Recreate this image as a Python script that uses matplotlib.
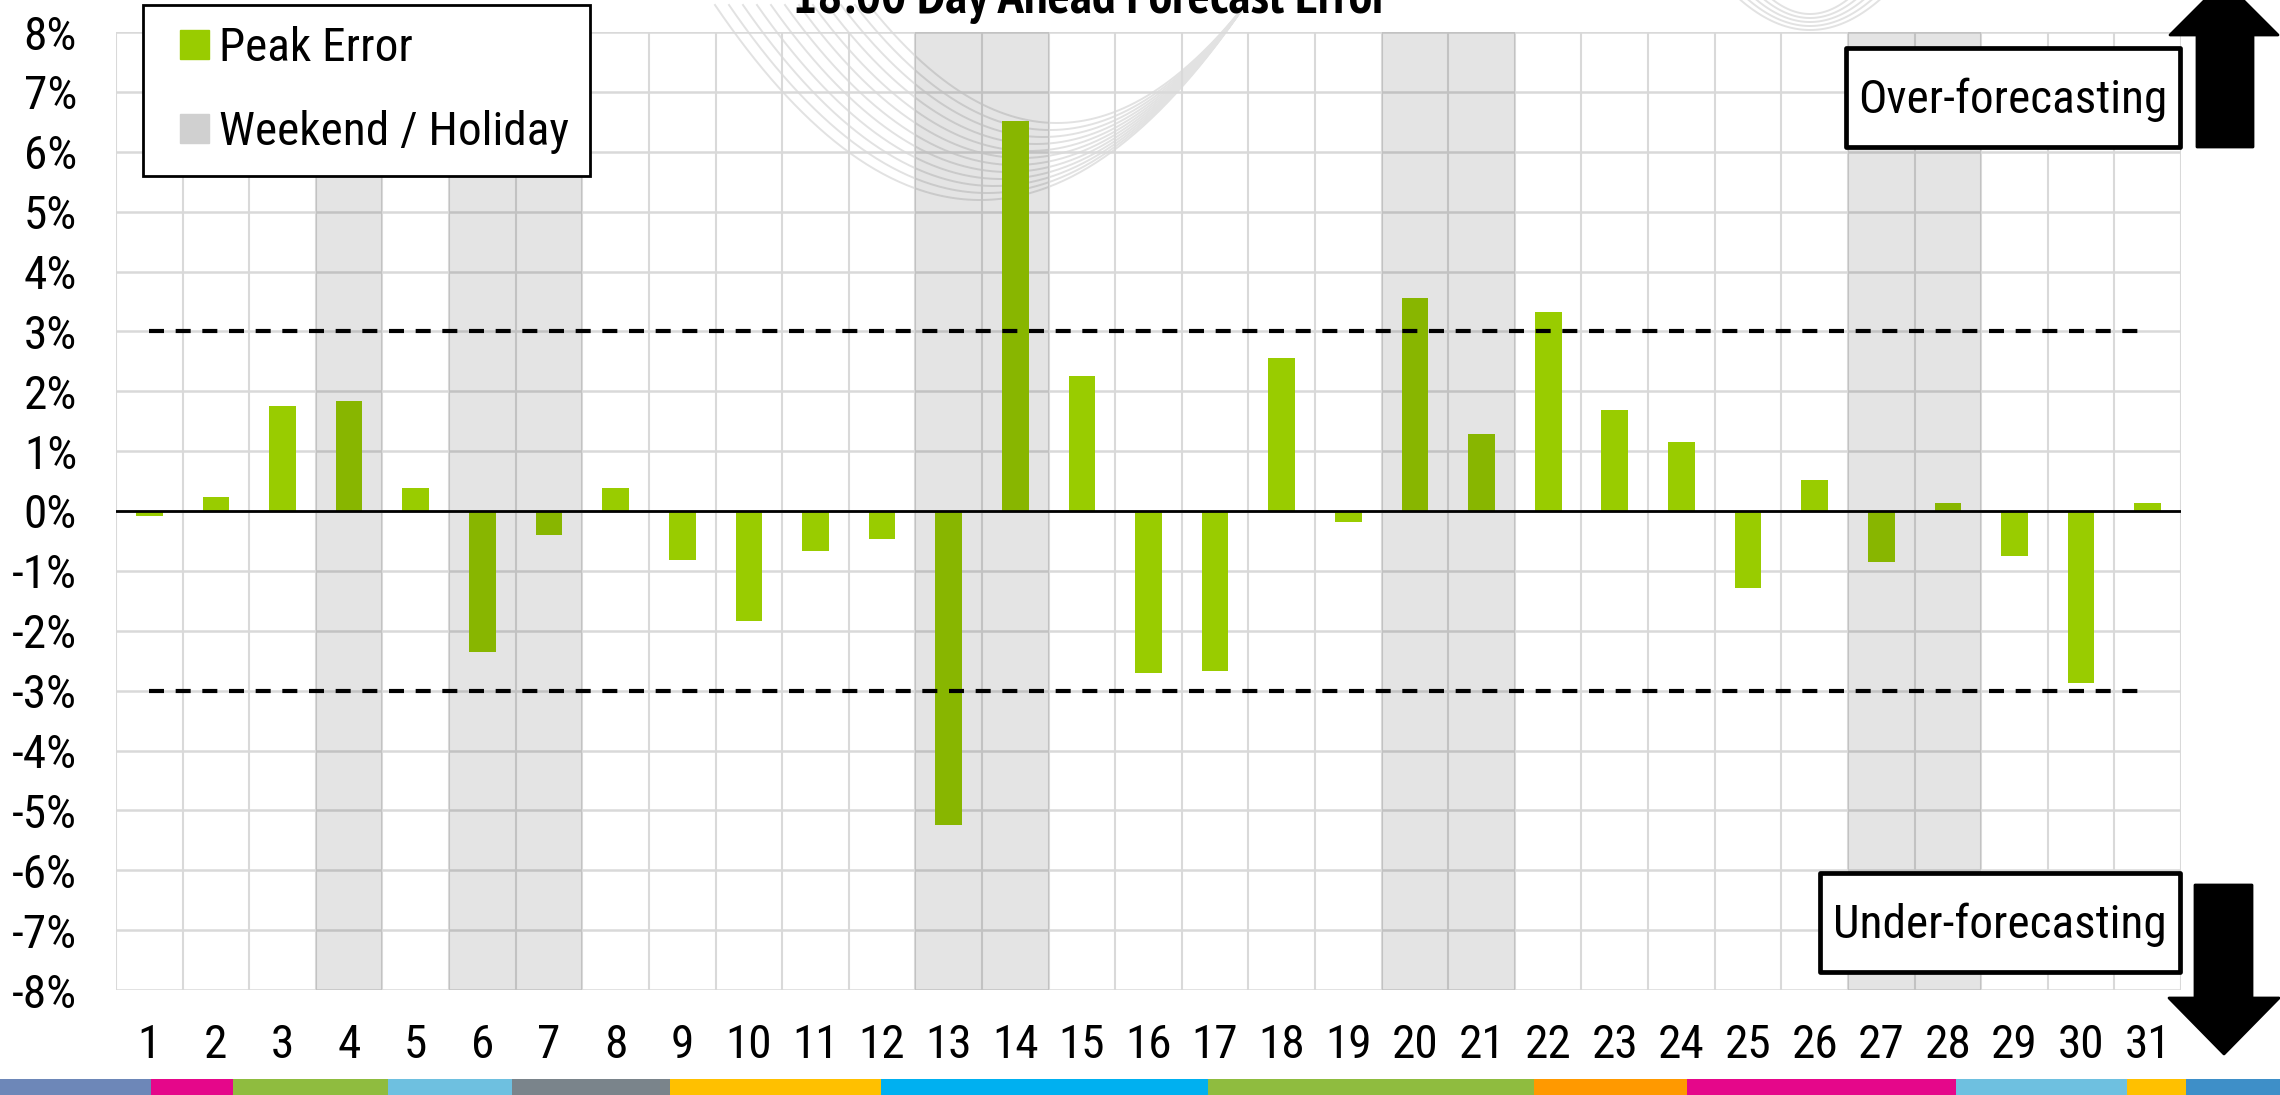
import matplotlib
matplotlib.use("Agg")
import matplotlib.pyplot as plt
from matplotlib.patches import Patch, Rectangle, Polygon
from matplotlib.legend_handler import HandlerPatch
from matplotlib.ticker import FuncFormatter
import numpy as np

# narrow sans (Arial Narrow look-alike)
NARROW = ['Liberation Sans Narrow', 'Roboto Condensed', 'PT Sans Narrow', 'Archivo Narrow',
          'Liberation Sans']
plt.rcParams['font.family'] = NARROW
plt.rcParams['axes.unicode_minus'] = False

# data
days = list(range(1, 32))
peak_error = [-0.08, 0.24, 1.76, 1.84, 0.38, -2.36, -0.40, 0.38, -0.82, -1.84,
              -0.66, -0.47, -5.25, 6.52, 2.26, -2.70, -2.68, 2.55, -0.18, 3.55,
              1.28, 3.33, 1.68, 1.16, -1.29, 0.51, -0.85, 0.14, -0.75, -2.88,
              0.14]
weekends = [4, 6, 7, 13, 14, 20, 21, 27, 28]
thresholds = [3, -3]
y_ticks = list(range(-8, 9))
title = "18:00 Day Ahead Forecast Error"

# footer colour strip (widths in px, colour)
strip = [(151, '#6d87b8'), (82, '#e5078a'), (155, '#8fbc3f'), (124, '#6ec0e0'),
         (158, '#7a848b'), (211, '#ffc000'), (327, '#00b0f0'), (326, '#8fbc3f'),
         (153, '#ff9900'), (269, '#e5078a'), (171, '#6ec0e0'), (59, '#ffc000'),
         (94, '#3e8fc8')]

W, H = 2280, 1095
fig = plt.figure(figsize=(W / 100, H / 100), dpi=100)

# background watermark
bg = fig.add_axes([0, 0, 1, 1], zorder=0)
bg.set_xlim(0, W)
bg.set_ylim(H, 0)
bg.axis('off')
for k in range(12):
    xv, yb = 980 + 7 * k, 200 - 7 * k
    xr = 1245
    a = (yb - 5) / (xr - xv) ** 2
    x = np.linspace(2 * xv - xr, xr, 200)
    bg.plot(x, yb - a * (x - xv) ** 2, color='#e2e2e2', lw=1.4)
for k in range(5):
    xv, yb, hw = 1810, 30 - 4 * k, 75 - 8 * k
    x = np.linspace(xv - hw, xv + hw, 100)
    bg.plot(x, yb - (yb + 5) / hw ** 2 * (x - xv) ** 2, color='#e2e2e2', lw=1.4)

# main chart
ax = fig.add_axes([116 / W, 1 - 990 / H, (2181 - 116) / W, (990 - 32) / H], zorder=1)
ax.set_facecolor('none')
ax.bar(days, peak_error, width=0.4, color='#99cc00', zorder=2)
for d in weekends:
    ax.axvspan(d - 0.5, d + 0.5, color='black', alpha=0.105, lw=0, zorder=3)
ax.axhline(0, color='black', lw=2, zorder=4)
ax.hlines(thresholds, days[0], days[-1], colors='black', lw=3,
          linestyles=(0, (3.6, 2.8)), zorder=4)

ax.set_xlim(0.5, 31.5)
ax.set_ylim(-8, 8)
ax.set_xticks(days)
ax.set_xticks(np.arange(0.5, 32, 1), minor=True)
ax.set_yticks(y_ticks)
ax.yaxis.set_major_formatter(FuncFormatter(lambda v, p: f"{v:.0f}%"))
ax.grid(which='minor', axis='x', color='#d9d9d9', lw=1.5, zorder=0)
ax.grid(which='major', axis='y', color='#d9d9d9', lw=1.8, zorder=0)
ax.set_axisbelow(True)
ax.tick_params(which='both', length=0)
ax.tick_params(axis='x', labelsize=34, pad=24)
ax.tick_params(axis='y', labelsize=34, pad=28)
for s in ax.spines.values():
    s.set_visible(False)


# legend: square marker pushed to the right of the handle box
def square_right(legend, orig_handle, xdescent, ydescent, width, height, fontsize):
    return Rectangle((-xdescent + width - height, -ydescent), height, height)


handles = [Patch(color='#99cc00', label='Peak Error'),
           Patch(color='#d0d0d0', label='Weekend / Holiday')]
leg = fig.legend(handles=handles, loc='upper left', bbox_to_anchor=(143 / W, 1 - 5 / H),
                 borderaxespad=0, fontsize=34, frameon=True, fancybox=False,
                 framealpha=1, edgecolor='black', handlelength=0.95, handleheight=0.58,
                 handletextpad=0.2, borderpad=0.45, labelspacing=0.85,
                 handler_map={Patch: HandlerPatch(patch_func=square_right)})
leg.get_frame().set_linewidth(2)

# decorations in pixel space
deco = fig.add_axes([0, 0, 1, 1], zorder=3)
deco.set_xlim(0, W)
deco.set_ylim(H, 0)
deco.axis('off')

deco.text(1090, 13, title, ha='center', va='baseline', fontsize=38, fontweight='bold',
          family=['Liberation Sans Narrow', 'PT Sans Narrow', 'Barlow Semi Condensed',
                  'Liberation Sans'])

for (x0, y0, x1, y1, txt) in [(1846, 48, 2180, 147, 'Over-forecasting'),
                              (1820, 873, 2180, 972, 'Under-forecasting')]:
    deco.add_patch(Rectangle((x0, y0), x1 - x0, y1 - y0, facecolor='white',
                             edgecolor='black', lw=3.4, joinstyle='round'))
    deco.text((x0 + x1) / 2, (y0 + y1) / 2 + 2, txt, ha='center', va='center', fontsize=34)

up = [(2197, 147), (2197, 35), (2170, 35), (2224, -19), (2278, 35), (2253, 35), (2253, 147)]
down = [(2195, 885), (2195, 998), (2169, 998), (2224, 1054), (2279, 998), (2252, 998), (2252, 885)]
for pts in (up, down):
    deco.add_patch(Polygon(pts, closed=True, facecolor='black', edgecolor='black',
                           lw=2, joinstyle='round'))

x = 0
for w, c in strip:
    deco.add_patch(Rectangle((x, 1079), w, 16, facecolor=c, lw=0))
    x += w

fig.savefig('out.png', dpi=100)
